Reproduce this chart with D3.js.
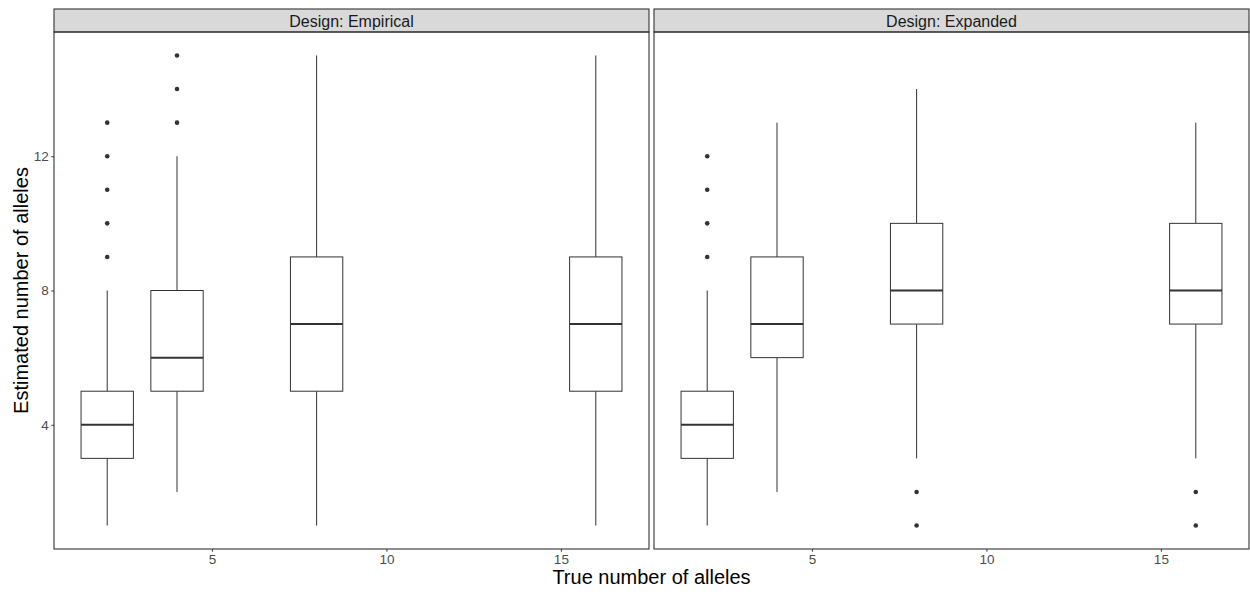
<!DOCTYPE html>
<html lang="en">
<head>
  <meta charset="UTF-8" />
  <title>Estimated vs true number of alleles</title>
  <script src="https://cdn.jsdelivr.net/npm/d3@7"></script>
  <style>
    body, html { margin:0; padding:0; background:#fff; }
    svg { display:block; font-family: "Liberation Sans", Arial, sans-serif; }
    .tick line { stroke:#333; }
    .domain { display:none; }
  </style>
</head>
<body>
  <svg id="chart" width="1250" height="594"></svg>

  <script>
    // facets and boxplot stats (ymin, q1, median, q3, ymax, outliers)
    const designs = ['Empirical', 'Expanded'];
    const trueAlleles = [2, 4, 8, 16];
    const empiricalStats = [
      [1, 3, 4, 5, 8],
      [2, 5, 6, 8, 12],
      [1, 5, 7, 9, 15],
      [1, 5, 7, 9, 15]
    ];
    const empiricalOutliers = [[9, 10, 11, 12, 13], [13, 14, 15], [], []];
    const expandedStats = [
      [1, 3, 4, 5, 8],
      [2, 6, 7, 9, 13],
      [3, 7, 8, 10, 14],
      [3, 7, 8, 10, 13]
    ];
    const expandedOutliers = [[9, 10, 11, 12], [], [1, 2], [1, 2]];
    const xTicks = [5, 10, 15];
    const yTicks = [4, 8, 12];

    const statsByDesign = { Empirical: empiricalStats, Expanded: expandedStats };
    const outByDesign = { Empirical: empiricalOutliers, Expanded: expandedOutliers };

    const svg = d3.select('#chart');
    const panelTop = 32, panelBottom = 549, stripTop = 9;
    const panels = [{ left: 54, right: 649 }, { left: 654, right: 1249 }];
    const boxW = 1.5;

    // ggplot-like 5% expansion
    const xLo = d3.min(trueAlleles) - boxW / 2, xHi = d3.max(trueAlleles) + boxW / 2;
    const xPad = (xHi - xLo) * 0.05;
    const yLo = 1, yHi = 15, yPad = (yHi - yLo) * 0.05;

    const y = d3.scaleLinear().domain([yLo - yPad, yHi + yPad]).range([panelBottom, panelTop]);

    function styleAxis(sel) {
      sel.attr('font-family', '"Liberation Sans", Arial, sans-serif').attr('font-size', 13.5);
      sel.selectAll('text').attr('fill', '#4d4d4d');
    }

    designs.forEach((design, p) => {
      const pn = panels[p];
      const x = d3.scaleLinear().domain([xLo - xPad, xHi + xPad]).range([pn.left, pn.right]);
      const g = svg.append('g');

      // strip
      g.append('rect')
        .attr('x', pn.left).attr('y', stripTop)
        .attr('width', pn.right - pn.left).attr('height', panelTop - stripTop)
        .attr('fill', '#d9d9d9').attr('stroke', '#333').attr('stroke-width', 1.1);
      g.append('text')
        .attr('x', (pn.left + pn.right) / 2).attr('y', 26.5)
        .attr('text-anchor', 'middle').attr('fill', '#1a1a1a').attr('font-size', 16)
        .text('Design: ' + design);

      const stats = statsByDesign[design];
      const outs = outByDesign[design];

      trueAlleles.forEach((t, i) => {
        const [lo, q1, med, q3, hi] = stats[i];
        const cx = x(t);
        const x0 = x(t - boxW / 2), x1 = x(t + boxW / 2);
        // whiskers
        g.append('line').attr('x1', cx).attr('x2', cx).attr('y1', y(hi)).attr('y2', y(q3))
          .attr('stroke', '#333').attr('stroke-width', 1);
        g.append('line').attr('x1', cx).attr('x2', cx).attr('y1', y(q1)).attr('y2', y(lo))
          .attr('stroke', '#333').attr('stroke-width', 1);
        // box
        g.append('rect').attr('x', x0).attr('y', y(q3))
          .attr('width', x1 - x0).attr('height', y(q1) - y(q3))
          .attr('fill', '#fff').attr('stroke', '#333').attr('stroke-width', 1);
        // median
        g.append('line').attr('x1', x0).attr('x2', x1).attr('y1', y(med)).attr('y2', y(med))
          .attr('stroke', '#333').attr('stroke-width', 2);
        // outliers
        g.selectAll(null).data(outs[i]).enter().append('circle')
          .attr('cx', cx).attr('cy', d => y(d)).attr('r', 2.3).attr('fill', '#333');
      });

      // panel border
      g.append('rect')
        .attr('x', pn.left).attr('y', panelTop)
        .attr('width', pn.right - pn.left).attr('height', panelBottom - panelTop)
        .attr('fill', 'none').attr('stroke', '#333').attr('stroke-width', 1.1);

      // x axis
      g.append('g').attr('transform', `translate(0,${panelBottom})`)
        .call(d3.axisBottom(x).tickValues(xTicks).tickSize(2.7).tickPadding(3))
        .call(styleAxis);

      // y axis only on the first panel
      if (p === 0) {
        g.append('g').attr('transform', `translate(${pn.left},0)`)
          .call(d3.axisLeft(y).tickValues(yTicks).tickSize(2.7).tickPadding(2.5))
          .call(styleAxis);
      }
    });

    // axis titles
    svg.append('text')
      .attr('x', (panels[0].left + panels[1].right) / 2).attr('y', 584)
      .attr('text-anchor', 'middle').attr('font-size', 20).attr('fill', '#000')
      .text('True number of alleles');
    svg.append('text')
      .attr('transform', `translate(28,${(panelTop + panelBottom) / 2}) rotate(-90)`)
      .attr('text-anchor', 'middle').attr('font-size', 20).attr('fill', '#000')
      .text('Estimated number of alleles');
  </script>
</body>
</html>
